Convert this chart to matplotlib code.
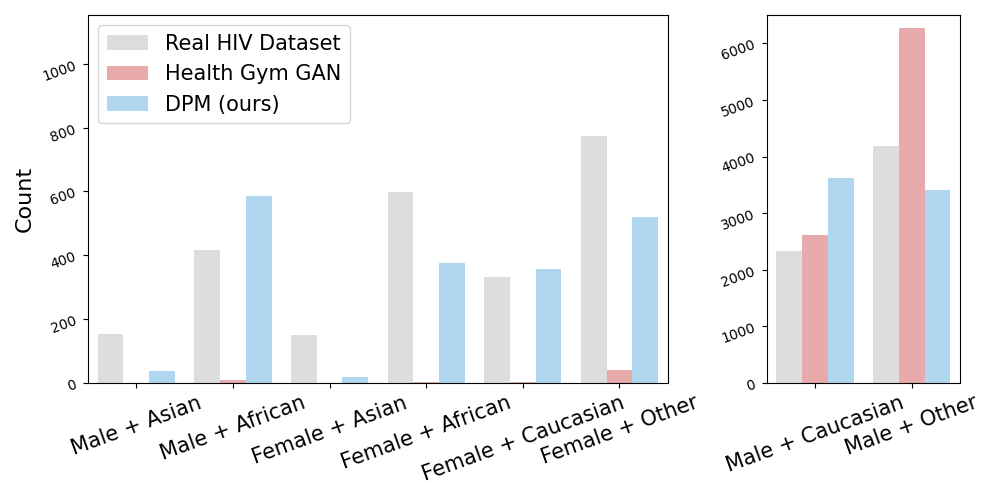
import numpy as np
import matplotlib
matplotlib.use("Agg")
from matplotlib import pyplot as plt

# Small groups (left panel)
small_groups = ["Male + Asian", "Male + African", "Female + Asian",
                "Female + African", "Female + Caucasian", "Female + Other"]
small_real = [153, 416, 150, 597, 331, 775]
small_gan = [0, 9, 0, 3, 3, 41]
small_dpm = [37, 587, 19, 375, 356, 519]

# Large groups (right panel)
large_groups = ["Male + Caucasian", "Male + Other"]
large_real = [2324, 4190]
large_gan = [2606, 6268]
large_dpm = [3627, 3415]

series_names = ["Real HIV Dataset", "Health Gym GAN", "DPM (ours)"]
colors = ["#dddddd", "#e8aaaa", "#afd7ef"]


def draw_bars(ax, groups, values):
    x = np.arange(len(groups))
    width = 0.8 / 3
    for i, (vals, name, col) in enumerate(zip(values, series_names, colors)):
        ax.bar(x + (i - 1) * width, vals, width, color=col, label=name)
    ax.set_xticks(x)
    ax.set_xticklabels(groups, rotation=20, fontsize=15)
    ax.tick_params(axis="y", labelrotation=20, labelsize=10)
    ax.set_xlim(-0.5, len(groups) - 0.5)


fig, (ax1, ax2) = plt.subplots(1, 2, figsize=(10, 5), dpi=100,
                               gridspec_kw={"width_ratios": [3, 1]})
fig.subplots_adjust(left=0.088, right=0.96, top=0.97, bottom=0.234, wspace=0.256)

draw_bars(ax1, small_groups, [small_real, small_gan, small_dpm])
ax1.set_ylim(0, 1153)
ax1.set_ylabel("Count", fontsize=16)
ax1.legend(loc="upper left", fontsize=15)

draw_bars(ax2, large_groups, [large_real, large_gan, large_dpm])
ax2.set_ylim(0, 6500)

fig.savefig("out.png")
